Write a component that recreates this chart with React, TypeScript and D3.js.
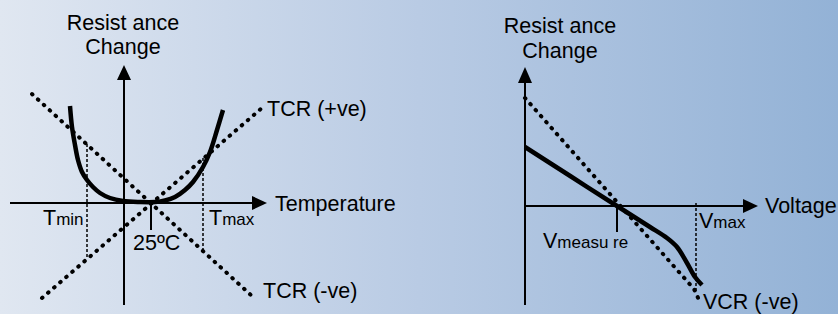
import React from 'react';
import * as d3 from 'd3';

// each unit = 10px, origin at the axis crossing
type Pt = [number, number];

const uCurve: Pt[] = [
  [-5.4, 9.7], [-5.2, 7.6], [-4.9, 5.8], [-4.6, 4.3], [-4.2, 3.1], [-3.7, 2.3],
  [-3.1, 1.6], [-2.4, 1.0], [-1.4, 0.5], [-0.1, 0.2], [1.6, 0.1], [3.1, 0.1],
  [4.1, 0.25], [5.1, 0.6], [6.1, 1.3], [6.9, 2.1], [7.9, 3.6], [8.6, 5.1],
  [9.3, 7.3], [9.9, 9.3],
];
const tcrNeg: Pt[] = [[-9.2, 10.9], [12.9, -9.4]];
const tcrPos: Pt[] = [[-8.2, -9.5], [13.9, 9.6]];
const tminX = -3.7;
const tminRange: Pt = [5.9, -5.6];
const tmaxX = 7.9;
const tmaxRange: Pt = [4.5, -4.7];
const refTempX = 2.7;

const vcrCurve: Pt[] = [
  [0, 5.9], [4.6, 2.95], [9.2, 0], [12.5, -2.1], [14.2, -3.2], [15.2, -4.1],
  [16.2, -5.7], [17.0, -7.1], [17.7, -7.9],
];
const vcrLine: Pt[] = [[0, 10.8], [16.9, -8.3], [17.4, -9.4]];
const vmeasureX = 9.2;
const vmaxX = 17.1;
const vmaxRange: Pt = [0.3, -8.7];

const W = 838;
const H = 314;
const font = '"Liberation Sans", Arial, sans-serif';

const App: React.FC = () => {
  // left panel scales
  const lx = d3.scaleLinear().domain([-11.4, 14.3]).range([10, 267]);
  const ly = d3.scaleLinear().domain([-10.2, 13.8]).range([305, 65]);
  // right panel scales
  const rx = d3.scaleLinear().domain([0, 23.3]).range([525, 758]);
  const ry = d3.scaleLinear().domain([-9.9, 13.9]).range([305, 67]);

  const lLine = d3.line<Pt>().x(d => lx(d[0])).y(d => ly(d[1]));
  const lCurve = d3.line<Pt>().x(d => lx(d[0])).y(d => ly(d[1])).curve(d3.curveCatmullRom);
  const rLine = d3.line<Pt>().x(d => rx(d[0])).y(d => ry(d[1]));
  const rCurve = d3.line<Pt>().x(d => rx(d[0])).y(d => ry(d[1])).curve(d3.curveCatmullRom);

  const dotted = {
    fill: 'none', stroke: '#000', strokeWidth: 4,
    strokeDasharray: '0.6 7.4', strokeLinecap: 'round' as const,
  };
  const dashed = { stroke: '#000', strokeWidth: 1.5, strokeDasharray: '3 2' };
  const txt = { fontFamily: font, fontSize: 21.5, fill: '#000' };
  const sub = 17;

  return (
    <svg width={W} height={H} style={{ position: 'absolute', left: 0, top: 0 }}>
      <defs>
        <linearGradient id="bg" x1="0" y1="0" x2="1" y2="0">
          <stop offset="0%" stopColor="#e0e7f1" />
          <stop offset="50%" stopColor="#b9cbe4" />
          <stop offset="100%" stopColor="#93b2d6" />
        </linearGradient>
      </defs>
      <rect width={W} height={H} fill="url(#bg)" />

      {/* Left: temperature */}
      <g>
        <line x1={lx(-11.4)} x2={lx(12.8)} y1={ly(0)} y2={ly(0)} stroke="#000" strokeWidth={2} />
        <path d={`M${lx(14.3)},${ly(0)} L${lx(12.8)},${ly(0.7)} L${lx(12.8)},${ly(-0.7)} Z`} />
        <line x1={lx(0)} x2={lx(0)} y1={ly(-10.2)} y2={ly(12.4)} stroke="#000" strokeWidth={2} />
        <path d={`M${lx(0)},${ly(13.8)} L${lx(-0.7)},${ly(12.3)} L${lx(0.7)},${ly(12.3)} Z`} />

        <path d={lLine(tcrNeg) ?? ''} {...dotted} />
        <path d={lLine(tcrPos) ?? ''} {...dotted} />
        <line x1={lx(tminX)} x2={lx(tminX)} y1={ly(tminRange[0])} y2={ly(tminRange[1])} {...dashed} />
        <line x1={lx(tmaxX)} x2={lx(tmaxX)} y1={ly(tmaxRange[0])} y2={ly(tmaxRange[1])} {...dashed} />
        <line x1={lx(refTempX)} x2={lx(refTempX)} y1={ly(0)} y2={ly(-2.7)} stroke="#000" strokeWidth={2} />
        <path d={lCurve(uCurve) ?? ''} fill="none" stroke="#000" strokeWidth={4.5} />

        <text x={lx(-0.1)} y={ly(17.3)} textAnchor="middle" {...txt}>Resist ance</text>
        <text x={lx(-0.1)} y={ly(14.9)} textAnchor="middle" {...txt}>Change</text>
        <text x={lx(15.1)} y={ly(-0.8)} {...txt}>Temperature</text>
        <text x={lx(14.3)} y={ly(8.7)} {...txt}>TCR (+ve)</text>
        <text x={lx(13.9)} y={ly(-9.5)} {...txt}>TCR (-ve)</text>
        <text x={lx(-8.1)} y={ly(-2.2)} {...txt}>T<tspan fontSize={sub}>min</tspan></text>
        <text x={lx(8.5)} y={ly(-2.2)} {...txt}>T<tspan fontSize={sub}>max</tspan></text>
        <text x={lx(0.9)} y={ly(-4.7)} {...txt}>25ºC</text>
      </g>

      {/* Right: voltage */}
      <g>
        <line x1={rx(0)} x2={rx(21.9)} y1={ry(0)} y2={ry(0)} stroke="#000" strokeWidth={2} />
        <path d={`M${rx(23.3)},${ry(0)} L${rx(21.8)},${ry(0.7)} L${rx(21.8)},${ry(-0.7)} Z`} />
        <line x1={rx(0)} x2={rx(0)} y1={ry(-9.9)} y2={ry(12.4)} stroke="#000" strokeWidth={2} />
        <path d={`M${rx(0)},${ry(13.9)} L${rx(-0.7)},${ry(12.3)} L${rx(0.7)},${ry(12.3)} Z`} />

        <path d={rLine(vcrLine) ?? ''} {...dotted} />
        <line x1={rx(vmaxX)} x2={rx(vmaxX)} y1={ry(vmaxRange[0])} y2={ry(vmaxRange[1])} {...dashed} />
        <line x1={rx(vmeasureX)} x2={rx(vmeasureX)} y1={ry(0)} y2={ry(-2.6)} stroke="#000" strokeWidth={2} />
        <path d={rCurve(vcrCurve) ?? ''} fill="none" stroke="#000" strokeWidth={4.5} />

        <text x={rx(3.5)} y={ry(17.3)} textAnchor="middle" {...txt}>Resist ance</text>
        <text x={rx(3.5)} y={ry(14.8)} textAnchor="middle" {...txt}>Change</text>
        <text x={rx(24.0)} y={ry(-0.7)} {...txt}>Voltage</text>
        <text x={rx(17.4)} y={ry(-2.2)} {...txt}>V<tspan fontSize={sub}>max</tspan></text>
        <text x={rx(1.8)} y={ry(-4.2)} {...txt}>V<tspan fontSize={sub}>measu re</tspan></text>
        <text x={rx(17.8)} y={ry(-10.3)} {...txt}>VCR (-ve)</text>
      </g>
    </svg>
  );
};

export default App;
